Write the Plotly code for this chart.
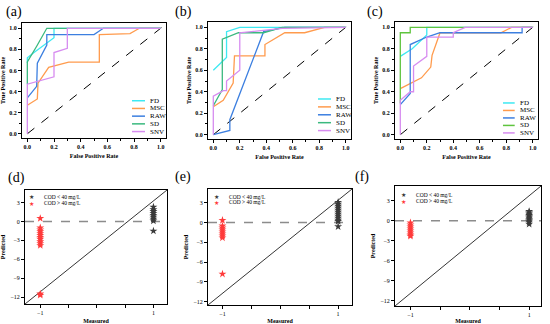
import plotly.graph_objects as go

W, H = 550, 324
SERIF = "Liberation Serif"

# ---------------- ROC data (FPR, TPR) ----------------
roc_names = ["FD", "MSC", "RAW", "SD", "SNV"]

a_FD_x = [0, 0, 0.05, 0.15, 0.2, 0.2, 1.0]
a_FD_y = [0.67, 0.72, 0.77, 0.86, 0.91, 1.0, 1.0]
a_MSC_x = [0, 0.075, 0.08, 0.16, 0.31, 0.54, 0.54, 0.77, 0.84, 1.0]
a_MSC_y = [0.27, 0.33, 0.48, 0.63, 0.68, 0.68, 0.94, 0.95, 1.0, 1.0]
a_RAW_x = [0, 0.07, 0.075, 0.146, 0.146, 0.5, 0.57, 1.0]
a_RAW_y = [0.34, 0.45, 0.67, 0.84, 0.94, 0.94, 1.0, 1.0]
a_SD_x = [0, 0, 0.07, 0.146, 1.0]
a_SD_y = [0.47, 0.68, 0.83, 1.0, 1.0]
a_SNV_x = [0, 0, 0.2, 0.2, 0.3, 0.3, 1.0]
a_SNV_y = [0, 0.47, 0.54, 0.77, 0.81, 1.0, 1.0]

b_FD_x = [0, 0.1, 0.1, 0.2, 1.0]
b_FD_y = [0.6, 0.72, 0.96, 1.0, 1.0]
b_MSC_x = [0, 0.075, 0.15, 0.16, 0.39, 0.39, 0.54, 0.69, 0.84, 1.0]
b_MSC_y = [0.26, 0.32, 0.48, 0.735, 0.735, 0.84, 0.95, 0.95, 1.0, 1.0]
b_RAW_x = [0, 0.125, 0.125, 0.38, 0.54, 1.0]
b_RAW_y = [0, 0.04, 0.14, 0.96, 1.0, 1.0]
b_SD_x = [0, 0.068, 0.068, 0.19, 0.38, 0.52, 1.0]
b_SD_y = [0.27, 0.42, 0.89, 0.95, 0.95, 1.0, 1.0]
b_SNV_x = [0, 0, 0.075, 0.1, 0.1, 0.2, 0.2, 0.52, 1.0]
b_SNV_y = [0, 0.36, 0.41, 0.41, 0.5, 0.6, 0.95, 0.99, 1.0]

c_FD_x = [0, 0.09, 0.2, 0.2, 1.0]
c_FD_y = [0.73, 0.8, 0.93, 1.0, 1.0]
c_MSC_x = [0, 0.16, 0.23, 0.24, 0.3, 0.76, 0.84, 1.0]
c_MSC_y = [0.43, 0.53, 0.63, 0.74, 0.95, 0.95, 1.0, 1.0]
c_RAW_x = [0, 0.075, 0.075, 0.2, 0.3, 0.92, 0.92, 1.0]
c_RAW_y = [0.28, 0.385, 0.84, 0.91, 0.95, 0.95, 1.0, 1.0]
c_SD_x = [0, 0, 0.075, 0.075, 0.49, 1.0]
c_SD_y = [0.29, 0.95, 0.95, 1.0, 1.0, 1.0]
c_SNV_x = [0, 0, 0.075, 0.1, 0.1, 0.2, 0.2, 0.4, 0.4, 0.49, 1.0]
c_SNV_y = [0, 0.32, 0.4, 0.4, 0.64, 0.73, 0.91, 0.91, 0.95, 1.0, 1.0]

# ---------------- Predicted vs measured ----------------
measured_below = 1      # COD < 40 mg/L
measured_above = -1     # COD > 40 mg/L
d_below = [2.3, 1.9, 1.6, 1.3, 1.0, 0.7, 0.4, 0.1, -1.5]
d_above = [0.5, -1.0, -1.3, -1.6, -1.9, -2.2, -2.5, -2.8, -3.2, -3.5, -3.8, -11.5, -11.7]
e_below = [3.1, 2.8, 2.5, 2.2, 1.9, 1.6, 1.3, 1.0, 0.7, 0.4, 0.2, -0.6]
e_above = [0.35, -0.5, -0.8, -1.1, -1.4, -1.7, -2.0, -2.3, -7.8]
f_below = [1.4, 1.2, 1.0, 0.8, 0.6, 0.4, 0.2, 0.0, -0.2, -0.5]
f_above = [-0.3, -0.6, -0.9, -1.2, -1.5, -1.8, -2.1, -2.3]

roc_ticks = [0, 0.2, 0.4, 0.6, 0.8, 1.0]
roc_ticktext = ["0.0", "0.2", "0.4", "0.6", "0.8", "1.0"]
pred_xticks = [-1, -0.5, 0, 0.5, 1]
pred_xticktext = ["\u22121", "", "", "", "1"]
pred_yticks = [-12, -9, -6, -3, 0, 3]

# ---------------- layout geometry (pixels) ----------------
boxes = {
    1: (22, 166, 23, 138),
    2: (208, 351, 22, 139),
    3: (395, 538, 22, 139),
    4: (25, 167, 190, 304),
    5: (208, 352, 189, 305),
    6: (395, 541, 186, 306),
}
pred_xranges = {4: [-1.27, 1.24], 5: [-1.25, 1.24], 6: [-1.26, 1.2]}
pred_yranges = {4: [-13.1, 5.0], 5: [-12.5, 5.1], 6: [-12.75, 5.2]}

colors = {"FD": "#3ee9f2", "MSC": "#ff9b4d", "RAW": "#3c7fe0", "SD": "#3bb97f", "SNV": "#d78cf0"}
colors_c = dict(colors, SD="#5fc43e")

fig = go.Figure()

roc_data = {
    1: [(a_FD_x, a_FD_y), (a_MSC_x, a_MSC_y), (a_RAW_x, a_RAW_y), (a_SD_x, a_SD_y), (a_SNV_x, a_SNV_y)],
    2: [(b_FD_x, b_FD_y), (b_MSC_x, b_MSC_y), (b_RAW_x, b_RAW_y), (b_SD_x, b_SD_y), (b_SNV_x, b_SNV_y)],
    3: [(c_FD_x, c_FD_y), (c_MSC_x, c_MSC_y), (c_RAW_x, c_RAW_y), (c_SD_x, c_SD_y), (c_SNV_x, c_SNV_y)],
}

def axname(i, kind):
    return kind if i == 1 else f"{kind}{i}"

for i, series in roc_data.items():
    cmap = colors_c if i == 3 else colors
    for name, (xs, ys) in zip(roc_names, series):
        fig.add_trace(go.Scatter(x=xs, y=ys, mode="lines", name=name, showlegend=False,
                                 line=dict(color=cmap[name], width=1.3),
                                 xaxis=axname(i, "x"), yaxis=axname(i, "y")))

pred_data = {4: (d_below, d_above), 5: (e_below, e_above), 6: (f_below, f_above)}
for i, (below, above) in pred_data.items():
    fig.add_trace(go.Scatter(x=[measured_below] * len(below), y=below, mode="markers",
                             name="COD < 40 mg/L", showlegend=False,
                             marker=dict(symbol="star", size=6, color="#3a3a3a"),
                             xaxis=axname(i, "x"), yaxis=axname(i, "y")))
    fig.add_trace(go.Scatter(x=[measured_above] * len(above), y=above, mode="markers",
                             name="COD > 40 mg/L", showlegend=False,
                             marker=dict(symbol="star", size=6, color="#ff3b3b"),
                             xaxis=axname(i, "x"), yaxis=axname(i, "y")))

layout = dict(width=W, height=H, margin=dict(l=0, r=0, t=0, b=0),
              paper_bgcolor="white", plot_bgcolor="white", showlegend=False,
              font=dict(family=SERIF, color="black"))

tickfont_b = dict(family=SERIF, size=6, color="black", weight="bold")
tickfont_n = dict(family=SERIF, size=6, color="black")
titlefont = dict(family=SERIF, size=6, color="black", weight="bold")

for i, (x0, x1, y0, y1) in boxes.items():
    xd = [x0 / W, x1 / W]
    yd = [1 - y1 / H, 1 - y0 / H]
    xa = dict(domain=xd, anchor=axname(i, "y"), showline=True, mirror=True, linecolor="black",
              linewidth=1, showgrid=False, zeroline=False, ticks="outside", ticklen=3,
              tickwidth=0.8, tickcolor="black")
    ya = dict(domain=yd, anchor=axname(i, "x"), showline=True, mirror=True, linecolor="black",
              linewidth=1, showgrid=False, zeroline=False, ticks="outside", ticklen=3,
              tickwidth=0.8, tickcolor="black")
    if i <= 3:
        xa.update(range=[-0.04, 1.04], tickvals=roc_ticks, ticktext=roc_ticktext, tickfont=tickfont_b,
                  minor=dict(dtick=0.1, tick0=0, ticks="outside", ticklen=2, tickcolor="black"),
                  title=dict(text="False Positive Rate", font=titlefont, standoff=4))
        ya.update(range=[-0.04, 1.05], tickvals=roc_ticks, ticktext=roc_ticktext, tickfont=tickfont_b,
                  minor=dict(dtick=0.1, tick0=0, ticks="outside", ticklen=2, tickcolor="black"),
                  title=dict(text="True Positive Rate", font=titlefont, standoff=3))
    else:
        xa.update(range=pred_xranges[i], tickvals=pred_xticks, ticktext=pred_xticktext, tickfont=tickfont_n,
                  title=dict(text="Measured", font=titlefont, standoff=3))
        ya.update(range=pred_yranges[i], tickvals=pred_yticks, tickfont=tickfont_n,
                  title=dict(text="Predicted", font=titlefont, standoff=4))
    layout[("xaxis" if i == 1 else f"xaxis{i}")] = xa
    layout[("yaxis" if i == 1 else f"yaxis{i}")] = ya

fig.update_layout(**layout)

shapes = []
annotations = []

# diagonal reference lines
for i in (1, 2, 3):
    shapes.append(dict(type="line", xref=axname(i, "x"), yref=axname(i, "y"), x0=0, y0=0, x1=1.04, y1=1.04,
                       line=dict(color="black", width=1, dash="dash"), layer="below"))
for i in (4, 5, 6):
    shapes.append(dict(type="line", xref=f"{axname(i, 'x')} domain", yref=f"{axname(i, 'y')} domain",
                       x0=0, y0=0, x1=1, y1=1, line=dict(color="black", width=0.8), layer="below"))
    shapes.append(dict(type="line", xref=f"{axname(i, 'x')} domain", yref=axname(i, "y"),
                       x0=0, y0=0, x1=1, y1=0, line=dict(color="#8c8c8c", width=1.5, dash="dash"),
                       layer="below"))

# ROC legends (manual, compact)
roc_leg = {1: (0.764, 0.854, 0.875, 0.324, 0.067),
           2: (0.769, 0.860, 0.878, 0.342, 0.0675),
           3: (0.755, 0.837, 0.860, 0.308, 0.064)}
for i, (lx0, lx1, tx, ytop, dy) in roc_leg.items():
    cmap = colors_c if i == 3 else colors
    for k, name in enumerate(roc_names):
        yy = ytop - k * dy
        shapes.append(dict(type="line", xref=f"{axname(i, 'x')} domain", yref=f"{axname(i, 'y')} domain",
                           x0=lx0, x1=lx1, y0=yy, y1=yy, line=dict(color=cmap[name], width=1.5)))
        annotations.append(dict(xref=f"{axname(i, 'x')} domain", yref=f"{axname(i, 'y')} domain",
                                x=tx, y=yy, text=name, showarrow=False, xanchor="left", yanchor="middle",
                                font=dict(family=SERIF, size=7, color="black")))

# prediction legends
pred_leg = {4: (0.047, 0.118, 0.941, 0.883),
            5: (0.060, 0.130, 0.934, 0.886),
            6: (0.060, 0.128, 0.928, 0.872)}
for i, (sx, tx, r1, r2) in pred_leg.items():
    for yy, col, txt in ((r1, "#3a3a3a", "COD &lt; 40 mg/L"), (r2, "#ff3b3b", "COD &gt; 40 mg/L")):
        annotations.append(dict(xref=f"{axname(i, 'x')} domain", yref=f"{axname(i, 'y')} domain",
                                x=sx, y=yy, text="\u2605", showarrow=False, xanchor="center", yanchor="middle",
                                font=dict(family="DejaVu Sans", size=6, color=col)))
        annotations.append(dict(xref=f"{axname(i, 'x')} domain", yref=f"{axname(i, 'y')} domain",
                                x=tx, y=yy, text=txt, showarrow=False, xanchor="left", yanchor="middle",
                                font=dict(family=SERIF, size=5.5, color="black")))

# panel labels
for lab, px, py in (("(a)", 14, 12), ("(b)", 183, 12), ("(c)", 375, 12),
                    ("(d)", 16, 178), ("(e)", 183, 177), ("(f)", 362, 177)):
    annotations.append(dict(xref="paper", yref="paper", x=px / W, y=1 - py / H, text=lab, showarrow=False,
                            xanchor="center", yanchor="middle", font=dict(family=SERIF, size=14, color="black")))

fig.update_layout(shapes=shapes, annotations=annotations)
fig.write_html("out.html", config={"displayModeBar": False},
               post_script="document.body.style.margin='0';document.body.style.overflow='hidden';")
